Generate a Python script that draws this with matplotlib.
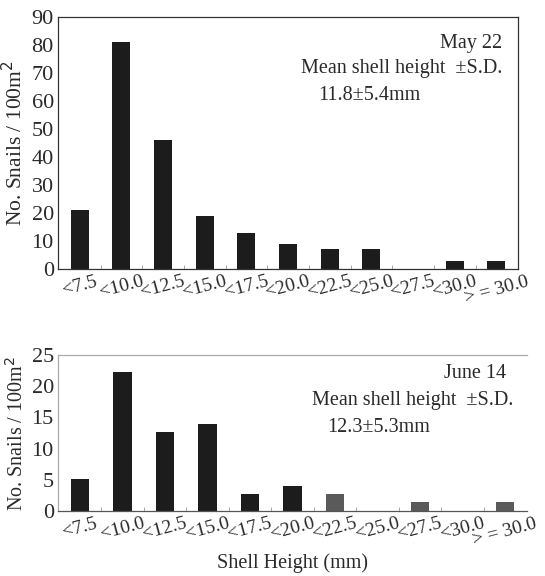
import matplotlib
matplotlib.use("Agg")
import matplotlib.pyplot as plt
import numpy as np

categories = ["<7.5", "<10.0", "<12.5", "<15.0", "<17.5", "<20.0",
              "<22.5", "<25.0", "<27.5", "<30.0", "> = 30.0"]
may_values = [21, 81, 46, 19, 13, 9, 7, 7, 0, 3, 3]
june_values = [5.2, 22.3, 12.6, 13.9, 2.7, 4.0, 2.8, 0, 1.4, 0, 1.4]
june_colors = ["#1c1c1c"] * 6 + ["#5a5a5a"] * 5

plt.rcParams["font.family"] = ["Liberation Serif", "DejaVu Serif"]
txt = "#2a2a2a"

fig = plt.figure(figsize=(5.45, 5.76), dpi=100)
ax1 = fig.add_axes([58/545, 1-269/576, (518-58)/545, (269-17)/576])
ax2 = fig.add_axes([58/545, 1-511/576, (527-58)/545, (511-355)/576])

x = np.arange(len(categories))

def style(ax, ymax, step, spine_col, ylab_size):
    ax.set_xlim(-0.52, len(categories) - 0.48)
    ax.set_ylim(0, ymax)
    ax.set_yticks(np.arange(0, ymax + 1, step))
    ax.set_xticks(x)
    ax.set_xticklabels(categories, rotation=15, ha="center", fontsize=14, color=txt)
    ax.tick_params(axis="x", length=0, pad=3)
    ax.tick_params(axis="y", length=0, labelsize=16, colors=txt, pad=3)
    ax.set_xticks(x[:-1] + 0.5, minor=True)
    ax.tick_params(axis="x", which="minor", direction="in", length=3, color="#999999")
    for s in ax.spines.values():
        s.set_color(spine_col)
        s.set_linewidth(0.9)
    ax.set_ylabel("No. Snails / 100m$^2$", fontsize=ylab_size, color=txt, labelpad=3)

ax1.bar(x, may_values, width=0.43, color="#1c1c1c")
style(ax1, 90, 10, "#333333", 15.5)
ax1.text(0.965, 0.895, "May 22", transform=ax1.transAxes, ha="right", va="center", fontsize=14.5, color=txt)
ax1.text(0.965, 0.795, "Mean shell height  \u00b1S.D.", transform=ax1.transAxes, ha="right", va="center", fontsize=14.5, color=txt)
ax1.text(0.565, 0.69, "11.8\u00b15.4mm", transform=ax1.transAxes, ha="left", va="center", fontsize=14.5, color=txt)

ax2.bar(x, june_values, width=0.43, color=june_colors)
style(ax2, 25, 5, "#aaaaaa", 14.5)
ax2.spines["bottom"].set_color("#555555")
ax2.spines["right"].set_visible(False)
ax2.text(0.955, 0.88, "June 14", transform=ax2.transAxes, ha="right", va="center", fontsize=14.5, color=txt)
ax2.text(0.97, 0.71, "Mean shell height  \u00b1S.D.", transform=ax2.transAxes, ha="right", va="center", fontsize=14.5, color=txt)
ax2.text(0.575, 0.535, "12.3\u00b15.3mm", transform=ax2.transAxes, ha="left", va="center", fontsize=14.5, color=txt)
ax2.set_xlabel("Shell Height (mm)", fontsize=14.5, color=txt, labelpad=3)

fig.savefig("out.png", dpi=100)
